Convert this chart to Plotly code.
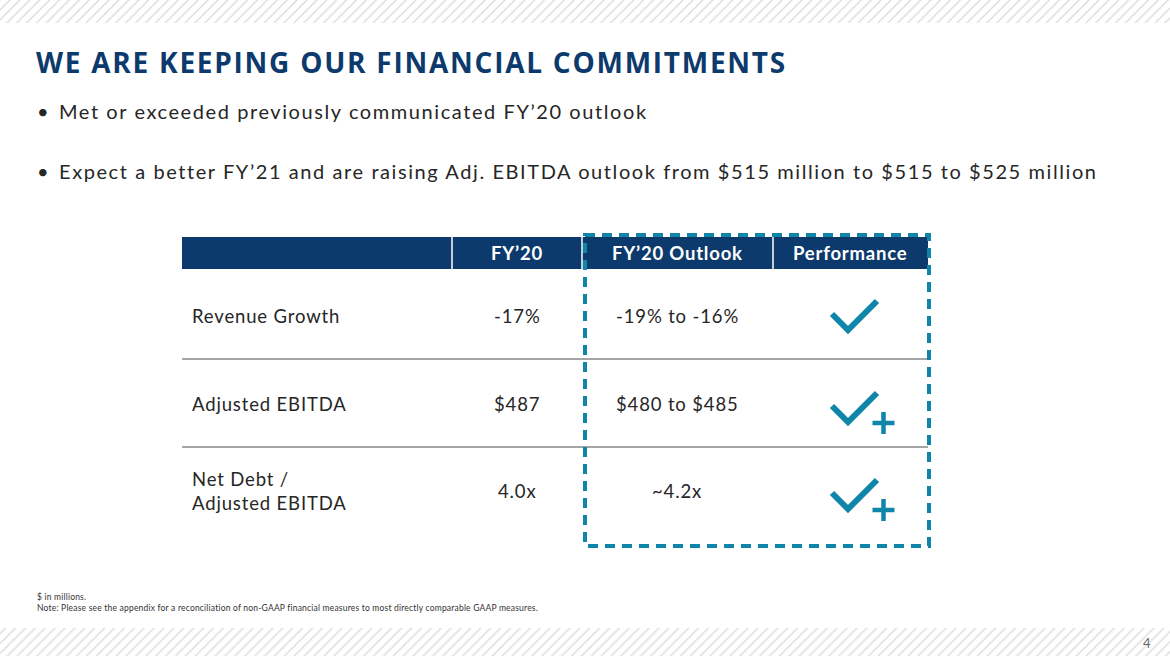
import plotly.graph_objects as go

W, H = 1170, 656

title = "WE ARE KEEPING OUR FINANCIAL COMMITMENTS"
bullets = [
    "Met or exceeded previously communicated FY’20 outlook",
    "Expect a better FY’21 and are raising Adj. EBITDA outlook from $515 million to $515 to $525 million",
]
headers = ["", "FY’20", "FY’20 Outlook", "Performance"]
metrics = ["Revenue Growth", "Adjusted EBITDA", "Net Debt /<br>Adjusted EBITDA"]
fy20 = ["-17%", "$487", "4.0x"]
outlook = ["-19% to -16%", "$480 to $485", "~4.2x"]
performance = ["met", "exceeded", "exceeded"]
footnotes = [
    "$ in millions.",
    "Note: Please see the appendix for a reconciliation of non-GAAP financial measures to most directly comparable GAAP measures.",
]
page_no = "4"

NAVY = "#0d3a6c"
TEAL = "#0f86a9"
TXT = "#262626"
FONT = "Lato"

# table geometry (pixels)
col_edges = [182, 452, 582, 773, 928]
col_centers = [191, 517, 677, 850]
head_top, head_bot = 237, 269
row_centers = [316, 404, 491]
row_lines = [359, 447]


def spaced(txt, px):
    """wrap text in a span with css letter spacing"""
    return f'<span style="letter-spacing:{px}px">{txt}</span>'


fig = go.Figure()

# hatched bands top and bottom
for y0, y1 in [(0, 23), (628, H)]:
    fig.add_trace(
        go.Scatter(
            x=[0, W, W, 0, 0],
            y=[y0, y0, y1, y1, y0],
            mode="lines",
            fill="toself",
            line=dict(width=0),
            fillcolor="white",
            fillpattern=dict(shape="/", fgcolor="#b8b8b8", bgcolor="white", size=7, solidity=0.2),
            hoverinfo="skip",
            showlegend=False,
        )
    )

# title
fig.add_annotation(
    x=34, y=62, text=f"<b>{spaced(title, 1.75)}</b>", showarrow=False, xanchor="left", yanchor="middle",
    font=dict(family="Open Sans", size=28, color=NAVY),
)

# bullets
for k, b in enumerate(bullets):
    yb = 111 + 60 * k
    fig.add_annotation(x=35, y=yb, text="•", showarrow=False, xanchor="left", yanchor="middle",
                       font=dict(family=FONT, size=20, color=TXT))
    fig.add_annotation(x=57, y=yb, text=spaced(b, 1.58), showarrow=False, xanchor="left", yanchor="middle",
                       font=dict(family=FONT, size=20, color=TXT))

# header band
fig.add_shape(type="rect", x0=col_edges[0], x1=col_edges[-1], y0=head_top, y1=head_bot,
              fillcolor=NAVY, line_width=0, layer="below")
for xe in col_edges[1:-1]:
    fig.add_shape(type="line", x0=xe, x1=xe, y0=head_top, y1=head_bot,
                  line=dict(color="white", width=1.5))
for k, h in enumerate(headers):
    if h:
        fig.add_annotation(x=col_centers[k], y=(head_top + head_bot) / 2, text=f"<b>{spaced(h, 0.8)}</b>",
                           showarrow=False, xanchor="center", yanchor="middle",
                           font=dict(family=FONT, size=18.5, color="white"))

# row separators
for yl in row_lines:
    fig.add_shape(type="line", x0=col_edges[0], x1=col_edges[-1], y0=yl, y1=yl,
                  line=dict(color="#4a4a4a", width=1))

# cells
for i, yc in enumerate(row_centers):
    label = "<br>".join(spaced(part, 0.85) for part in metrics[i].split("<br>"))
    fig.add_annotation(x=col_centers[0] - 1, y=yc, text=label, showarrow=False,
                       xanchor="left", yanchor="middle", align="left",
                       font=dict(family=FONT, size=18.5, color=TXT))
    fig.add_annotation(x=col_centers[1], y=yc, text=spaced(fy20[i], 0.85), showarrow=False,
                       xanchor="center", yanchor="middle",
                       font=dict(family=FONT, size=18.5, color=TXT))
    fig.add_annotation(x=col_centers[2], y=yc, text=spaced(outlook[i], 0.85), showarrow=False,
                       xanchor="center", yanchor="middle",
                       font=dict(family=FONT, size=18.5, color=TXT))

    # performance icon
    cx = col_centers[3]
    dy = -2 if performance[i] == "met" else 2
    fig.add_trace(
        go.Scatter(
            x=[cx - 18, cx - 2, cx + 27],
            y=[yc + dy, yc + dy + 16, yc + dy - 13],
            mode="lines", line=dict(color=TEAL, width=6),
            hoverinfo="skip", showlegend=False,
        )
    )
    if performance[i] == "exceeded":
        px, py = cx + 33.5, yc + 19
        fig.add_shape(type="line", x0=px - 11, x1=px + 11, y0=py, y1=py, line=dict(color=TEAL, width=4.5))
        fig.add_shape(type="line", x0=px, x1=px, y0=py - 11, y1=py + 11, line=dict(color=TEAL, width=4.5))

# dashed highlight around outlook & performance
fig.add_shape(type="rect", x0=585, x1=929, y0=235, y1=546,
              line=dict(color=TEAL, width=4, dash="10px,7px"), fillcolor="rgba(0,0,0,0)")

# footnotes
for k, f in enumerate(footnotes):
    fig.add_annotation(x=35, y=597 + 11 * k, text=spaced(f, 0.2), showarrow=False, xanchor="left", yanchor="middle",
                       font=dict(family=FONT, size=8.5, color="#333333"))

fig.add_annotation(x=1147, y=643, text=page_no, showarrow=False, xanchor="center", yanchor="middle",
                   font=dict(family=FONT, size=13, color="#666666"))

fig.update_xaxes(range=[0, W], visible=False, fixedrange=True)
fig.update_yaxes(range=[H, 0], visible=False, fixedrange=True)
fig.update_layout(
    width=W, height=H,
    margin=dict(l=0, r=0, t=0, b=0),
    plot_bgcolor="white", paper_bgcolor="white",
    showlegend=False,
)

# drop the browser's default body margin so the slide sits at the page corner
fig.write_html("out.html", config={"displayModeBar": False},
               post_script="document.body.style.margin='0';")
